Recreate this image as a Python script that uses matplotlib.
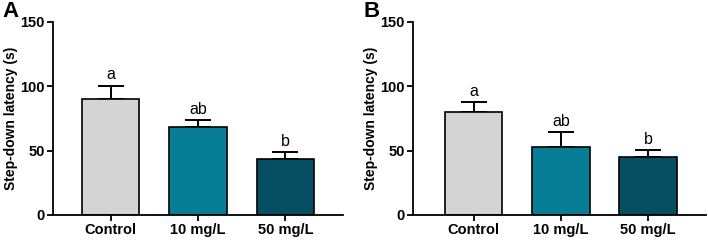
import matplotlib
matplotlib.use("Agg")
import matplotlib.pyplot as plt

categories = ["Control", "10 mg/L", "50 mg/L"]
means_A = [90, 68.5, 43.5]
errs_A = [10.5, 5.5, 5.2]
letters_A = ["a", "ab", "b"]
means_B = [80, 53, 45.2]
errs_B = [7.5, 11.5, 5.1]
letters_B = ["a", "ab", "b"]
colors = ["#d4d4d4", "#087e96", "#064f62"]
yticks = [0, 50, 100, 150]

plt.rcParams['font.family'] = ['Liberation Sans', 'DejaVu Sans']

fig = plt.figure(figsize=(7.08, 2.41), dpi=100)

def panel(rect, means, errs, letters, tag, xlim):
    ax = fig.add_axes(rect)
    x = range(len(categories))
    ax.bar(x, means, width=0.66, color=colors, edgecolor="black", linewidth=1.2, zorder=2)
    ax.errorbar(x, means, yerr=[[0]*len(errs), errs], fmt="none", ecolor="black",
                elinewidth=1.4, capsize=9.5, capthick=1.4, zorder=1)
    for xi, m, e, l in zip(x, means, errs, letters):
        ax.text(xi, m + e + 2.5, l, ha="center", va="bottom", fontsize=11.5)
    ax.set_ylim(0, 150)
    ax.set_xlim(*xlim)
    ax.set_yticks(yticks)
    ax.set_xticks(list(x))
    ax.set_xticklabels(categories, fontsize=10.5, fontweight="bold")
    for lab in ax.get_yticklabels():
        lab.set_fontsize(10.5)
        lab.set_fontweight("bold")
    ax.set_ylabel("Step-down latency (s)", fontsize=10, fontweight="bold", labelpad=1.5)
    for s in ["top", "right"]:
        ax.spines[s].set_visible(False)
    for s in ["left", "bottom"]:
        ax.spines[s].set_linewidth(1.3)
    ax.tick_params(axis="both", width=1.3, length=4, pad=2)
    fig.text(rect[0] - 0.071, 0.995, tag, fontsize=16, fontweight="bold", va="top", ha="left")
    return ax

panel([53/708, 26/241, 290/708, 193/241], means_A, errs_A, letters_A, "A", (-0.66, 2.66))
panel([413.3/708, 26/241, 292.4/708, 193/241], means_B, errs_B, letters_B, "B", (-0.69, 2.66))

fig.savefig("out.png", dpi=100)
